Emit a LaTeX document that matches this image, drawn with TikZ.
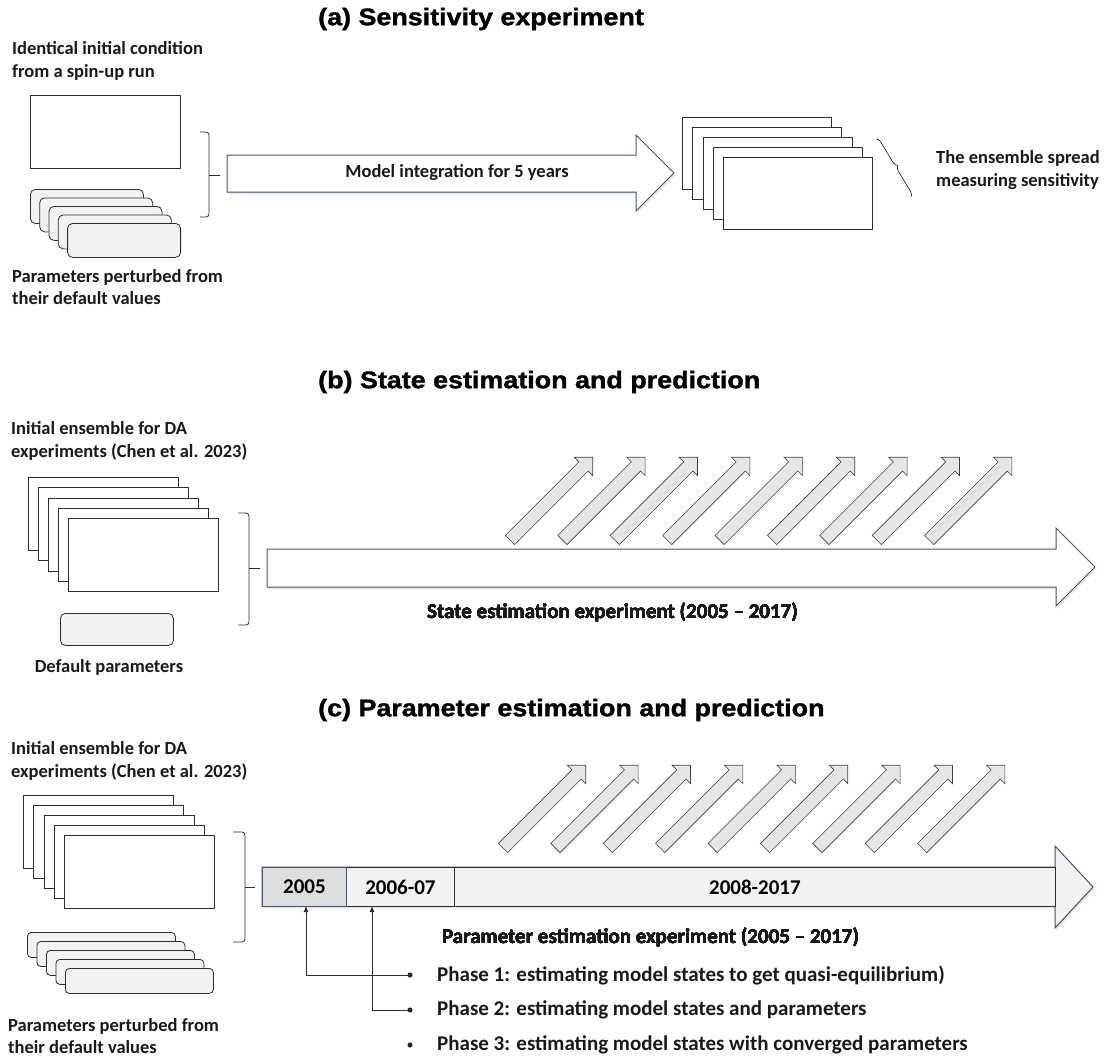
\documentclass[tikz,border=0pt]{standalone}
\usepackage{fontspec}
\setmainfont{Carlito}
\newfontfamily\titlefont{Liberation Sans Bold}[FakeStretch=1.12,FakeBold=1.4]
\usetikzlibrary{decorations.pathreplacing,arrows.meta,shadows}
\definecolor{slate}{RGB}{68,84,106}
\definecolor{pfill}{RGB}{242,242,242}
\definecolor{dfill}{RGB}{230,230,230}
\definecolor{cfill}{RGB}{222,222,222}
\definecolor{lc}{RGB}{45,45,45}
\newcommand\diagarr[2]{%
\begin{scope}[shift={(#1,#2)},rotate=45]
\draw[diag] (0,-6.5) -- (104,-6.5) -- (104,-13) -- (117,0) -- (104,13) -- (104,6.5) -- (0,6.5) -- cycle;
\end{scope}}
\begin{document}
\begin{tikzpicture}[x=1pt,y=-1pt,
  box/.style={draw=lc,line width=0.8pt,fill=white,anchor=north west,inner sep=0},
  pbox/.style={draw=lc,line width=0.8pt,fill=pfill,rounded corners=5pt,anchor=north west,inner sep=0},
  lbl/.style={font=\fontsize{18.5}{22.5}\selectfont\bfseries,align=left,inner sep=0,text=black!90},
  big21/.style={font=\fontsize{21}{24}\selectfont\bfseries,align=left,inner sep=0,text=black!90},
  ttl/.style={font=\titlefont\fontsize{24}{28}\selectfont,inner sep=0,anchor=west},
  big/.style={draw=slate,line width=1pt,fill=white,drop shadow={opacity=0.18,shadow xshift=1pt,shadow yshift=-2.5pt}},
  diag/.style={draw=black!75,line width=0.6pt,fill=dfill},
  brk/.style={draw=lc,line width=0.8pt,rounded corners=3pt},
  cell/.style={draw=lc,line width=0.8pt,fill=pfill,anchor=north west,inner sep=0,minimum height=39pt,font=\fontsize{21}{24}\selectfont\bfseries},
  conn/.style={draw=lc,line width=0.8pt,-{Latex[length=6pt,width=5pt]}},
  bul/.style={circle,fill=black!85,inner sep=1.8pt}
]
\useasboundingbox[fill=white] (0,0) rectangle (1105,1063);

% ---------------- (a) ----------------
\node[ttl] (ta) at (318,19) {(a) Sensitivity experiment};
\node[lbl,anchor=west] (ic) at (12,61) {Identical initial condition\\from a spin-up run};
\node[box,minimum width=150pt,minimum height=73pt] (icbox) at (30,95) {};
\foreach \i in {0,...,4}
  \node[pbox,minimum width=113pt,minimum height=34pt] (pa\i) at ({30+9.3*\i},{189+8.5*\i}) {};
\node[lbl,anchor=west] (ppa) at (12,287) {Parameters perturbed from\\their default values};
\draw[brk] (200,132) -- (209,132) -- (209,217) -- (200,217);
\draw[brk] (209,175) -- (220,175);
\draw[big] (227,155) -- (636,155) -- (636,135) -- (674,173) -- (636,211) -- (636,192) -- (227,192) -- cycle;
\node[lbl] (mi) at (457,173) {Model integration for 5 years};
\foreach \i in {0,...,4}
  \node[box,minimum width=149pt,minimum height=72pt] (ea\i) at ({682+10.25*\i},{117+10*\i}) {};
\coordinate (bra) at (876,139);
\coordinate (brb) at (911,197);
\draw[draw=lc,line width=0.7pt,decorate,decoration={brace,amplitude=5pt}] (bra) -- (brb);
\node[lbl,anchor=west] (es) at (936,170) {The ensemble spread\\measuring sensitivity};

% ---------------- (b) ----------------
\node[ttl] (tb) at (318,382) {(b) State estimation and prediction};
\node[lbl,anchor=west] (ieb) at (11,441) {Initial ensemble for DA\\experiments (Chen et al. 2023)};
\foreach \i in {0,...,4}
  \node[box,minimum width=150pt,minimum height=73pt] (sb\i) at ({28+10*\i},{477+10.25*\i}) {};
\node[pbox,minimum width=113pt,minimum height=32pt] (dp) at (60,613) {};
\node[lbl] (dpt) at (109,667) {Default parameters};
\draw[brk] (238,513) -- (249,513) -- (249,625) -- (238,625);
\draw[brk] (249,568) -- (260,568);
\draw[big] (267,549) -- (1056,549) -- (1056,528) -- (1095,567) -- (1056,606) -- (1056,587) -- (267,587) -- cycle;
\foreach \i in {0,...,8} \diagarr{510+52.4*\i}{540}
\node[big21,anchor=west] (se) at (427,612) {State estimation experiment (2005 -- 2017)};

% ---------------- (c) ----------------
\node[ttl] (tc) at (318,710) {(c) Parameter estimation and prediction};
\node[lbl,anchor=west] (iec) at (11,761) {Initial ensemble for DA\\experiments (Chen et al. 2023)};
\foreach \i in {0,...,4}
  \node[box,minimum width=150pt,minimum height=73pt] (sc\i) at ({23+10.25*\i},{795+10*\i}) {};
\foreach \i in {0,...,4}
  \node[pbox,minimum width=148pt,minimum height=25pt,rounded corners=4pt] (pc\i) at ({27+9.5*\i},{932+9*\i}) {};
\node[lbl,anchor=west] (ppc) at (8,1036) {Parameters perturbed from\\their default values};
\draw[brk] (233,832) -- (245,832) -- (245,942) -- (233,942);
\draw[brk] (245,887) -- (255,887);
\draw[big,fill=pfill] (262,867) -- (1055,867) -- (1055,846) -- (1093,887) -- (1055,928) -- (1055,906) -- (262,906) -- cycle;
\node[cell,minimum width=108pt] (c06) at (346,867) {2006-07};
\node[cell,minimum width=601pt] (c08) at (454,867) {2008-2017};
\node[cell,fill=cfill,draw=slate,minimum width=84pt] (c05) at (262,867) {2005};
\foreach \i in {0,...,8} \diagarr{503+52.4*\i}{848}
\node[big21,anchor=west] (pe) at (442,937) {Parameter estimation experiment (2005 -- 2017)};
\node[bul] (b1) at (410,975) {};
\node[bul] (b2) at (410,1010) {};
\node[bul] (b3) at (410,1045) {};
\node[big21,anchor=west] (p1) at (437,975) {Phase 1: estimating model states to get quasi-equilibrium)};
\node[big21,anchor=west] (p2) at (437,1010) {Phase 2: estimating model states and parameters};
\node[big21,anchor=west] (p3) at (437,1045) {Phase 3: estimating model states with converged parameters};
\coordinate (u1) at (306,906);
\coordinate (u2) at (372,906);
\draw[conn] (b1.center) -| (u1);
\draw[conn] (b2.center) -| (u2);
\end{tikzpicture}
\end{document}
